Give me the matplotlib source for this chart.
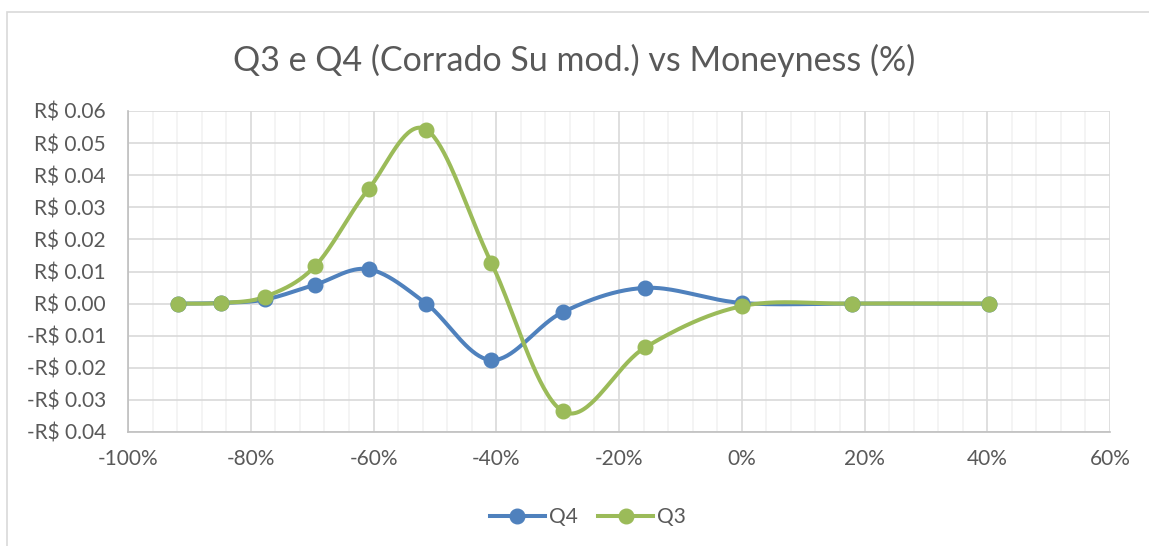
import numpy as np
import matplotlib
matplotlib.use("Agg")
import matplotlib.pyplot as plt
from matplotlib.ticker import MultipleLocator, FuncFormatter
from matplotlib.lines import Line2D
from matplotlib.patches import Rectangle

plt.rcParams['font.family'] = ['Lato', 'DejaVu Sans']

# data (moneyness in %, values in R$)
moneyness = [-91.8, -84.9, -77.6, -69.5, -60.8, -51.4, -40.8, -29.1, -15.7, 0.0, 18.0, 40.3]
q4 = [0.0, 0.0002, 0.0013, 0.0059, 0.0107, 0.0, -0.0176, -0.0026, 0.0049, 0.0002, 0.0, 0.0]
q3 = [0.0, 0.0002, 0.0022, 0.0117, 0.0357, 0.0542, 0.0127, -0.0336, -0.0136, -0.0008, 0.0, 0.0]

blue = '#4F81BD'
green = '#9BBB59'
txt = '#595959'


def smooth(x, y, n=40):
    # excel-like smoothed line (bezier through the points)
    x = np.asarray(x, float) / 100.0
    y = np.asarray(y, float)
    px = np.concatenate(([x[0]], x, [x[-1]]))
    py = np.concatenate(([y[0]], y, [y[-1]]))
    xs, ys = [], []
    t = np.linspace(0, 1, n)
    for i in range(1, len(px) - 2):
        p0 = np.array([px[i], py[i]])
        p3 = np.array([px[i + 1], py[i + 1]])
        c1 = p0 + (np.array([px[i + 1], py[i + 1]]) - np.array([px[i - 1], py[i - 1]])) / 6
        c2 = p3 - (np.array([px[i + 2], py[i + 2]]) - np.array([px[i], py[i]])) / 6
        b = (np.outer((1 - t) ** 3, p0) + np.outer(3 * (1 - t) ** 2 * t, c1)
             + np.outer(3 * (1 - t) * t ** 2, c2) + np.outer(t ** 3, p3))
        xs.extend(b[:, 0])
        ys.extend(b[:, 1])
    return np.array(xs), np.array(ys)


fig = plt.figure(figsize=(11.49, 5.46), dpi=100)
ax = fig.add_axes([128 / 1149, 1 - 432 / 546, (1110 - 128) / 1149, (432 - 111) / 546])

# chart frame
fig.patches.append(Rectangle((7 / 1149, -0.01), 1.1, 1 - 12 / 546 + 0.01, transform=fig.transFigure,
                             fill=False, edgecolor='#D9D9D9', linewidth=1.2))

x = np.array(moneyness) / 100.0
for vals, col in [(q4, blue), (q3, green)]:
    sx, sy = smooth(moneyness, vals)
    ax.plot(sx, sy, color=col, lw=2.9, solid_capstyle='round', zorder=3)
    ax.plot(x, vals, 'o', color=col, ms=10.5, zorder=4)

ax.set_xlim(-1.0, 0.6)
ax.set_ylim(-0.04, 0.06)
ax.xaxis.set_major_locator(MultipleLocator(0.2))
ax.xaxis.set_minor_locator(MultipleLocator(0.04))
ax.yaxis.set_major_locator(MultipleLocator(0.01))
ax.xaxis.set_major_formatter(FuncFormatter(lambda v, p: '%d%%' % round(v * 100)))
ax.yaxis.set_major_formatter(FuncFormatter(
    lambda v, p: ('-R$ %.2f' % abs(v)) if v < -1e-9 else 'R$ %.2f' % abs(v)))

ax.grid(which='major', axis='both', color='#D9D9D9', lw=1.2)
ax.grid(which='minor', axis='x', color='#F2F2F2', lw=1.2)
ax.set_axisbelow(True)
for s in ['top', 'right']:
    ax.spines[s].set_visible(False)
for s in ['left', 'bottom']:
    ax.spines[s].set_color('#BFBFBF')
    ax.spines[s].set_linewidth(1.2)
ax.tick_params(which='both', length=0, colors=txt, labelsize=15)
ax.tick_params(axis='x', pad=12)
ax.tick_params(axis='y', pad=16)

fig.text(0.5, 1 - 60 / 546, 'Q3 e Q4 (Corrado Su mod.) vs Moneyness (%)', ha='center', va='center',
         fontsize=24.5, color=txt)

handles = [Line2D([], [], color=blue, lw=2.9, marker='o', ms=10.5),
           Line2D([], [], color=green, lw=2.9, marker='o', ms=10.5)]
fig.legend(handles, ['Q4', 'Q3'], loc='center', bbox_to_anchor=(588 / 1149, 1 - 517 / 546), ncol=2,
           frameon=False, fontsize=15, labelcolor=txt, handlelength=2.6, handletextpad=0.2,
           columnspacing=1.0)

fig.savefig('out.png', dpi=100)
